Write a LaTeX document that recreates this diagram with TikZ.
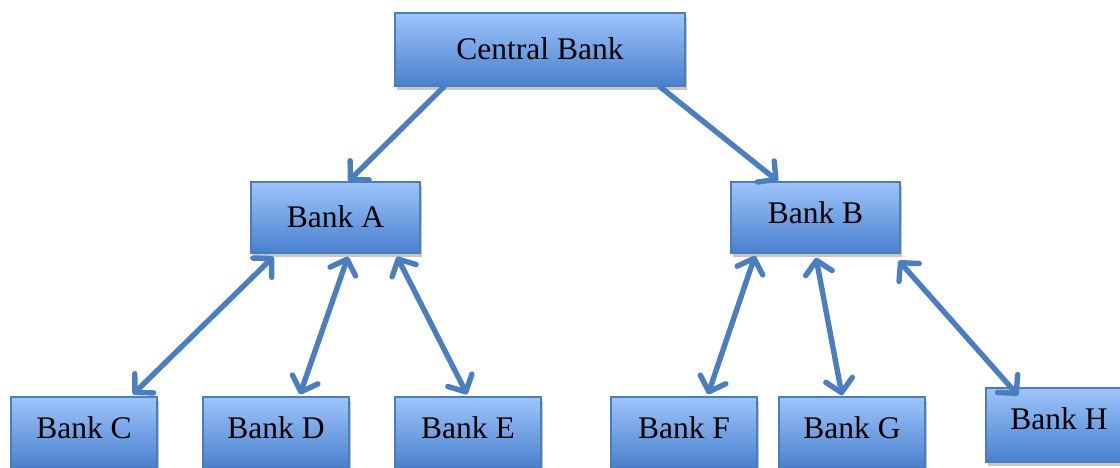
\documentclass[tikz,border=0pt]{standalone}
\usepackage{fontspec}
\setmainfont{Liberation Serif}
\usetikzlibrary{arrows.meta,shadows}
\definecolor{boxtop}{RGB}{158,196,250}
\definecolor{boxbot}{RGB}{72,128,206}
\definecolor{boxedge}{RGB}{74,126,187}
\definecolor{linkblue}{RGB}{74,126,190}
\tikzset{
  bank/.style={draw=boxedge, line width=1.4pt, top color=boxtop, bottom color=boxbot,
    minimum width=146pt, minimum height=71pt, inner sep=0pt,
    text height=21pt, text depth=0pt,
    font=\fontsize{31.5}{36}\selectfont,
    drop shadow={shadow xshift=2pt, shadow yshift=-4pt, fill=black, opacity=0.22}},
  raised/.style={text depth=10pt},
  tip/.style={Straight Barb[round, length=13pt, width=27pt]},
  link/.style={draw=linkblue, line width=5.4pt, line cap=round, -{Straight Barb[round, length=13pt, width=27pt]}},
  dlink/.style={link, {Straight Barb[round, length=13pt, width=27pt]}-{Straight Barb[round, length=13pt, width=27pt]}}
}
\begin{document}
\begin{tikzpicture}[x=1pt, y=-1pt]
  \useasboundingbox (0,0) rectangle (1120,468);
  % boxes
  \node[bank, minimum width=290pt, minimum height=73pt] (cb) at (540,49.5) {Central Bank};
  \node[bank, minimum width=169pt] (a) at (335.5,217.5) {Bank A};
  \node[bank, raised, minimum width=169pt] (b) at (815.5,217.5) {Bank B};
  \node[bank, raised] (c) at (84,432.5) {Bank C};
  \node[bank, raised] (d) at (276,432.5) {Bank D};
  \node[bank, raised] (e) at (468,432.5) {Bank E};
  \node[bank, raised] (f) at (684,432.5) {Bank F};
  \node[bank, raised] (g) at (852,432.5) {Bank G};
  \node[bank, raised, minimum height=74pt, text depth=13pt] (h) at (1059,425) {Bank H};
  % central bank to the two banks below it
  \draw[link] ([xshift=-96pt]cb.south) -- ([xshift=13pt]a.north);
  \draw[link] ([xshift=120pt]cb.south) -- ([xshift=-37.5pt]b.north);
  % two-way links
  \draw[dlink] ([xshift=-62pt,yshift=-3pt]a.south) -- ([xshift=49pt,yshift=2pt]c.north);
  \draw[dlink] ([xshift=12.5pt,yshift=-3pt]a.south) -- ([xshift=24pt,yshift=2pt]d.north);
  \draw[dlink] ([xshift=61.5pt,yshift=-3pt]a.south) -- ([xshift=-1pt,yshift=2pt]e.north);
  \draw[dlink] ([xshift=-60.5pt,yshift=-2pt]b.south) -- ([xshift=24pt,yshift=2pt]f.north);
  \draw[dlink] ([xshift=0.5pt,yshift=-4pt]b.south) -- ([xshift=-10pt,yshift=1pt]g.north);
  \draw[dlink] ([xshift=-2pt,yshift=-7pt]b.south east) -- ([xshift=-41pt,yshift=-8pt]h.north);
\end{tikzpicture}
\end{document}
